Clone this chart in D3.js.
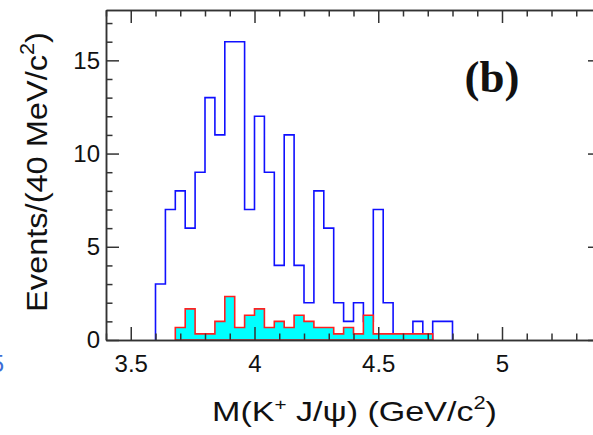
<!DOCTYPE html>
<html>
<head>
<meta charset="utf-8">
<script src="https://cdn.jsdelivr.net/npm/d3@7"></script>
<style>
  html, body { margin: 0; padding: 0; background: #fff; }
  svg { display: block; }
</style>
</head>
<body>
<svg id="chart" width="593" height="435"></svg>
<script>
// histogram contents, 40 MeV bins
const binWidth = 0.04;
const signalStart = 3.60;
const signalCounts = [3, 7, 8, 6, 9, 13, 11, 16, 16, 7, 12, 9, 4, 11, 4,
                      2, 8, 6, 2, 1, 2, 1, 7, 2, 0, 0, 1, 0, 1, 1];
const bkgStart = 3.68;
const bkgCounts = [0.67, 1.67, 0.33, 0.33, 1.0, 2.33, 0.67, 1.33, 1.67, 0.67,
                   1.0, 0.67, 1.33, 1.0, 0.67, 0.67, 0.33, 0.67, 0.33, 1.33,
                   0.33, 0.33, 0.33, 0.33, 0.33, 0.33];

// axis ticks
const xMajor = [3.5, 4, 4.5, 5];
const xMinor = [3.4, 3.6, 3.7, 3.8, 3.9, 4.1, 4.2, 4.3, 4.4, 4.6, 4.7, 4.8, 4.9, 5.1, 5.2, 5.3, 5.4];
const yMajor = [0, 5, 10, 15];
const yMinor = [1, 2, 3, 4, 6, 7, 8, 9, 11, 12, 13, 14, 16, 17];
const xDomain = [3.4, 5.4];
const yDomain = [0, 17.7];

// frame of the pad (right edge runs past the picture)
const padLeft = 106, padTop = 10, padRight = 601, padBottom = 340;
const svg = d3.select('#chart');

const x = d3.scaleLinear().domain(xDomain).range([padLeft, padRight]);
const y = d3.scaleLinear().domain(yDomain).range([padBottom, padTop]);

// turn a list of bin contents into the outline of a step histogram
function stepPoints(start, counts) {
    let pts = [[start, 0]];
    counts.forEach((c, i) => {
        pts.push([start + i * binWidth, c]);
        pts.push([start + (i + 1) * binWidth, c]);
    });
    pts.push([start + counts.length * binWidth, 0]);
    return pts;
}

const line = d3.line().x(d => x(d[0])).y(d => y(d[1]));

// signal region, open blue histogram
svg.append('path')
    .attr('d', line(stepPoints(signalStart, signalCounts)))
    .attr('fill', 'none')
    .attr('stroke', '#1010ff')
    .attr('stroke-width', 1.6);

// sideband estimate, cyan filled with red outline
svg.append('path')
    .attr('d', line(stepPoints(bkgStart, bkgCounts)) + 'Z')
    .attr('fill', '#00ffff')
    .attr('stroke', '#ff2020')
    .attr('stroke-width', 1.6);

// axes: ticks point inwards on all four sides
const axisColor = '#333';
function styleAxis(g) {
    g.selectAll('path, line').attr('stroke', axisColor).attr('stroke-width', 1.5);
    g.selectAll('text').attr('fill', '#111')
        .style('font-family', '"Liberation Sans", Arial, sans-serif')
        .style('font-size', '24px');
}

const fmt = d3.format('');
svg.append('g').attr('transform', `translate(0,${padBottom})`)
    .call(d3.axisBottom(x).tickValues(xMajor).tickSize(-13).tickSizeOuter(0).tickPadding(15).tickFormat(fmt))
    .call(styleAxis);
svg.append('g').attr('transform', `translate(0,${padBottom})`)
    .call(d3.axisBottom(x).tickValues(xMinor).tickSize(-6.5).tickSizeOuter(0).tickFormat(''))
    .call(styleAxis);
svg.append('g').attr('transform', `translate(0,${padTop})`)
    .call(d3.axisTop(x).tickValues(xMajor).tickSize(-13).tickSizeOuter(0).tickFormat(''))
    .call(styleAxis);
svg.append('g').attr('transform', `translate(0,${padTop})`)
    .call(d3.axisTop(x).tickValues(xMinor).tickSize(-6.5).tickSizeOuter(0).tickFormat(''))
    .call(styleAxis);

svg.append('g').attr('transform', `translate(${padLeft},0)`)
    .call(d3.axisLeft(y).tickValues(yMajor).tickSize(-13).tickSizeOuter(0).tickPadding(6).tickFormat(fmt))
    .call(styleAxis);
svg.append('g').attr('transform', `translate(${padLeft},0)`)
    .call(d3.axisLeft(y).tickValues(yMinor).tickSize(-6.5).tickSizeOuter(0).tickFormat(''))
    .call(styleAxis);
svg.append('g').attr('transform', `translate(${padRight},0)`)
    .call(d3.axisRight(y).tickValues(yMajor).tickSize(-13).tickSizeOuter(0).tickFormat(''))
    .call(styleAxis);
svg.append('g').attr('transform', `translate(${padRight},0)`)
    .call(d3.axisRight(y).tickValues(yMinor).tickSize(-6.5).tickSizeOuter(0).tickFormat(''))
    .call(styleAxis);

// titles; stretched horizontally to the width they take in the original
const sans = '"Liberation Sans", Arial, sans-serif';
function fitTitle(t, cx, cy, width, rotate) {
    let w = t.node().getBBox().width;
    let s = width / w;
    t.attr('transform', `translate(${cx},${cy})` + (rotate ? ' rotate(-90)' : '') + ` scale(${s},1)`);
}

let xt = svg.append('text')
    .attr('text-anchor', 'middle')
    .style('font-family', sans).style('font-size', '28px').attr('fill', '#111');
xt.append('tspan').text('M(K');
xt.append('tspan').attr('dy', -11).style('font-size', '17px').text('+');
xt.append('tspan').attr('dy', 11).text('\u00a0J/\u03c8) (GeV/c');
xt.append('tspan').attr('dy', -12).style('font-size', '18px').text('2');
xt.append('tspan').attr('dy', 12).text(')');
fitTitle(xt, 354.5, 421, 285, false);

let yt = svg.append('text')
    .attr('text-anchor', 'middle')
    .style('font-family', sans).style('font-size', '30px').attr('fill', '#111');
yt.append('tspan').text('Events/(40 MeV/c');
yt.append('tspan').attr('dy', -13).style('font-size', '20px').text('2');
yt.append('tspan').attr('dy', 13).text(')');
fitTitle(yt, 47, 172, 280, true);

// panel label
let lab = svg.append('text')
    .attr('text-anchor', 'middle')
    .style('font-family', '"Liberation Serif", "Times New Roman", serif')
    .style('font-weight', 'bold').style('font-size', '44px').attr('fill', '#111')
    .text('(b)');
fitTitle(lab, 492, 92, 55, false);

// edge of the neighbouring panel's tick label, cut off by the crop
svg.append('text')
    .attr('x', 4).attr('y', 372).attr('text-anchor', 'end')
    .style('font-family', sans).style('font-size', '24px').attr('fill', '#3d6fd6')
    .text('5');
</script>
</body>
</html>
